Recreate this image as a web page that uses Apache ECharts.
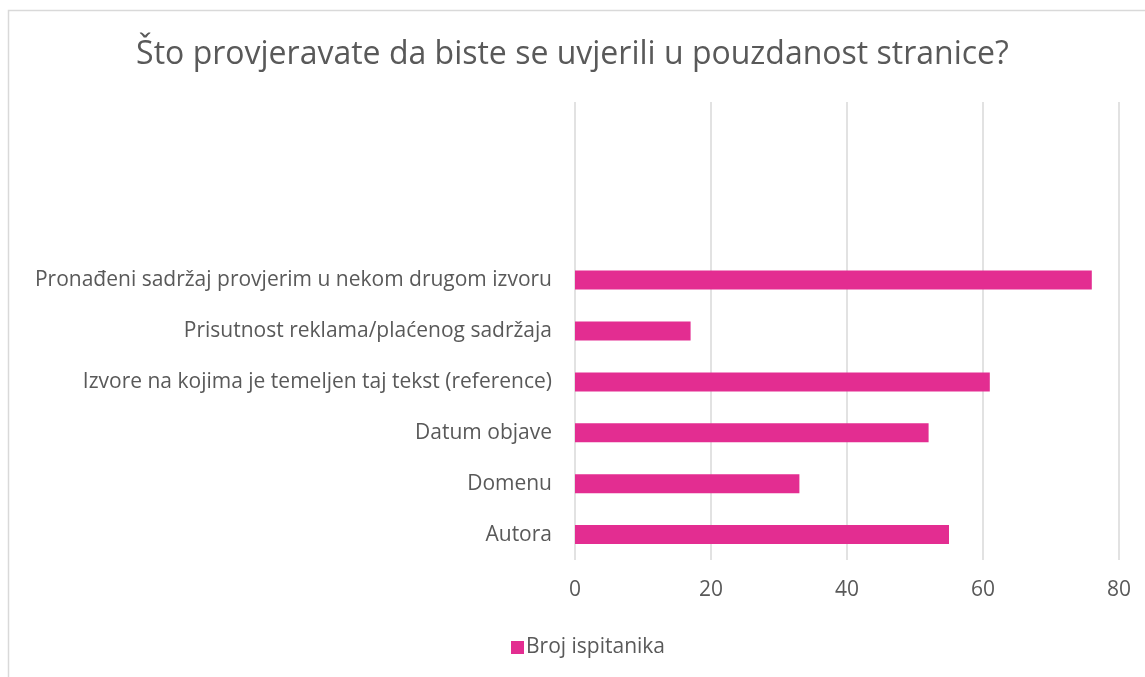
<!DOCTYPE html>
<html>
<head>
<meta charset="utf-8">
<script src="https://cdn.jsdelivr.net/npm/echarts@6/dist/echarts.min.js"></script>
<style>
  html, body { margin: 0; padding: 0; background: #fff; }
  #container { width: 1145px; height: 677px; }
</style>
</head>
<body>
<div id="container"></div>
<script>
// categories bottom-to-top, like Excel; top three slots are empty in the original
var categories = [
    'Autora',
    'Domenu',
    'Datum objave',
    'Izvore na kojima je temeljen taj tekst (reference)',
    'Prisutnost reklama/plaćenog sadržaja',
    'Pronađeni sadržaj provjerim u nekom drugom izvoru',
    ' ', '  ', '   '
];
var values = [55, 33, 52, 61, 17, 76, null, null, null];
var seriesName = 'Broj ispitanika';
var titleText = 'Što provjeravate da biste se uvjerili u pouzdanost stranice?';

var dom = document.getElementById("container");
var myChart = echarts.init(dom);
var fontFamily = '"Open Sans", sans-serif';
var textColor = '#595959';

var option = {
    animation: false,
    textStyle: { fontFamily: fontFamily },
    // chart frame: only top and left edges are visible in the crop
    graphic: [{
        type: 'polyline',
        shape: { points: [[8.5, 677], [8.5, 10.5], [1145, 10.5]] },
        style: { fill: 'none', stroke: '#d9d9d9', lineWidth: 1.5 },
        silent: true
    }],
    title: {
        text: titleText,
        left: 'center',
        top: 34,
        textStyle: {
            fontFamily: fontFamily,
            fontWeight: 'normal',
            fontSize: 32,
            color: textColor
        }
    },
    legend: {
        data: [seriesName],
        left: 506,
        top: 632,
        icon: 'rect',
        itemWidth: 13,
        itemHeight: 13,
        itemGap: 4,
        textStyle: { fontSize: 21, color: textColor, padding: [0, 0, 0, -3] }
    },
    grid: {
        left: 575,
        right: 26,
        top: 102,
        bottom: 117
    },
    xAxis: {
        type: 'value',
        min: 0,
        max: 80,
        interval: 20,
        axisLine: { show: false },
        axisTick: { show: false },
        splitLine: { lineStyle: { color: '#d9d9d9', width: 1.5 } },
        axisLabel: { fontSize: 21, color: textColor, margin: 20 }
    },
    yAxis: {
        type: 'category',
        data: categories,
        axisLine: { show: false },
        axisTick: { show: false },
        axisLabel: { fontSize: 21, color: textColor, margin: 23 }
    },
    series: [{
        name: seriesName,
        type: 'bar',
        data: values,
        barWidth: 19,
        itemStyle: { color: '#e32d91' }
    }]
};

if (option && typeof option === "object") {
    myChart.setOption(option, true);
}
</script>
</body>
</html>
